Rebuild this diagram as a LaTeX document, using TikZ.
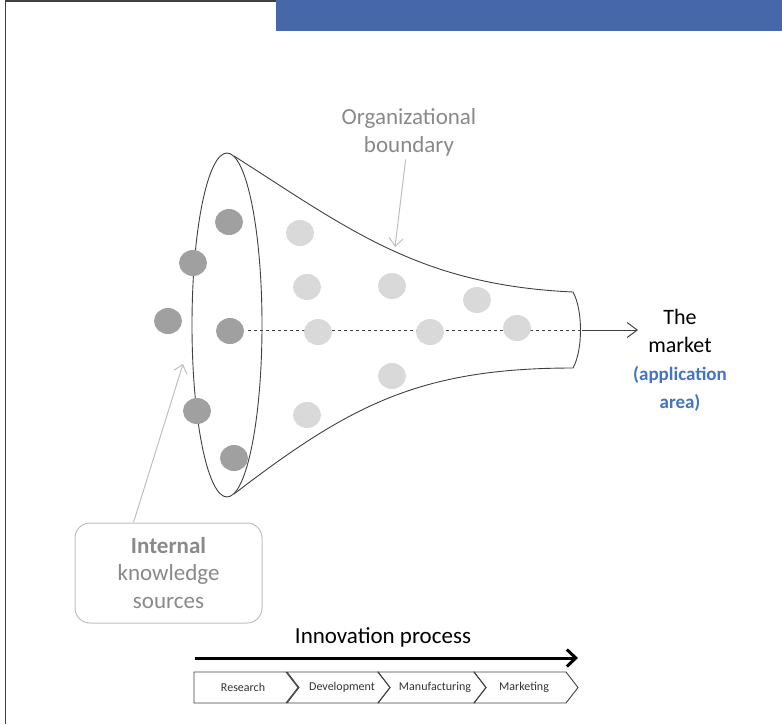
\documentclass[tikz,border=0pt]{standalone}
\usepackage{fontspec}
\setmainfont{Carlito}
\usetikzlibrary{positioning,arrows.meta}

\definecolor{barblue}{RGB}{71,103,171}
\definecolor{appblue}{RGB}{68,114,196}
\definecolor{linegray}{RGB}{64,64,64}
\definecolor{notegray}{RGB}{137,137,137}
\definecolor{pointergray}{RGB}{191,191,191}
\definecolor{darkdot}{RGB}{160,160,160}
\definecolor{lightdot}{RGB}{217,217,217}

\begin{document}
\begin{tikzpicture}[x=1pt,y=-1pt,
  outline/.style={draw=linegray, line width=0.9pt},
  dark/.style={fill=darkdot},
  light/.style={fill=lightdot},
  note/.style={text=notegray, align=center, font=\fontsize{23}{28}\selectfont},
  pointer/.style={draw=pointergray, line width=1pt, -{Straight Barb[length=8pt,width=14pt]}},
  stagebox/.style={draw=linegray, line width=0.9pt},
  stagetext/.style={font=\fontsize{12}{14}\selectfont, text=black!80},]
\useasboundingbox (0,0) rectangle (782,724);

%Frame
\fill[barblue] (276,0) rectangle (782,31);
\draw[linegray, line width=1.5pt] (5.5,724) -- (5.5,1) -- (276,1);

%Funnel
\draw[outline] (227,325) ellipse [x radius=35, y radius=172];
\draw[outline] (234,156) .. controls (350,230) and (420,285) .. (573,292)
  .. controls (583,310) and (583,350) .. (573,368)
  .. controls (420,368) and (350,405) .. (234,494);
\coordinate (cap) at (582,330);
\draw[linegray, dashed, line width=0.7pt] (248,330) -- (cap);

%Dots
\foreach \p in {(229,222),(193,263),(168,321),(230,331),(197,411),(234,458)}
  \fill[dark] \p ellipse [x radius=14, y radius=13];
\foreach \p in {(300,233),(307,287),(318,332),(307,415),(392,286),(430,332),(392,376),(477,300),(517,328)}
  \fill[light] \p ellipse [x radius=14, y radius=13];

%Nodes
\node[note] (org) at (409,132) {Organizational\\boundary};
\coordinate (orgtip) at (395,247);
\node[note, draw=pointergray, line width=1pt, rounded corners=15pt,
  minimum width=187pt, minimum height=100pt, font=\fontsize{23}{27.5}\selectfont]
  (internal) at (168.5,573) {\textbf{Internal}\\knowledge\\sources};
\coordinate (ktip) at (183,364);
\coordinate (mkt) at (638,330);
\node[align=center, inner sep=0pt, font=\fontsize{22}{28}\selectfont] (market) at (680,360)
  {The\\market\\{\fontsize{19}{26}\selectfont\bfseries\color{appblue}(application}\\{\fontsize{19}{26}\selectfont\bfseries\color{appblue}area)}};
\node[font=\fontsize{23}{28}\selectfont] (innov) at (383,637) {Innovation process};
\coordinate (pstart) at (195,658);
\coordinate (pend) at (578,658);

%Stages
\foreach \xl/\xr/\xt/\lbl [count=\i] in {194/298/243/Research, 287/390/342/Development, 378/486/435/Manufacturing, 474/578/524/Marketing}{
  \ifnum\i=1 \def\nd{0}\else \def\nd{12}\fi
  \draw[stagebox] (\xl,672) -- (\xr-12,672) -- (\xr,687.5) -- (\xr-12,703) -- (\xl,703) -- (\xl+\nd,687.5) -- cycle;
  \node[stagetext] (st\i) at (\xt,687.5) {\lbl};
}

%Lines
\draw[pointer] (org) -- (orgtip);
\draw[pointer] ([xshift=-35pt]internal.north) -- (ktip);
\draw[linegray, line width=1pt, -{Straight Barb[length=10pt,width=15pt]}] (cap) -- (mkt);
\draw[black, line width=3pt, -{Straight Barb[length=9pt,width=17pt]}] (pstart) -- (pend);

\end{tikzpicture}
\end{document}
